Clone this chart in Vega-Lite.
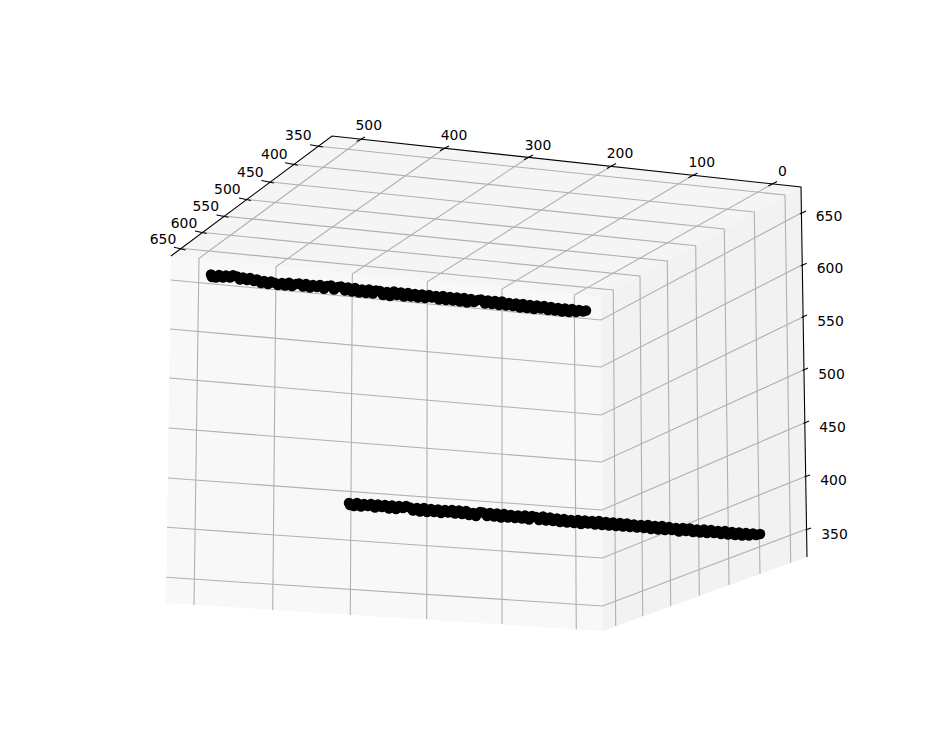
{
"$schema":"https://vega.github.io/schema/vega-lite/v6.json",
"width":939,"height":732,"padding":0,
"autosize":{"type":"fit","contains":"padding"},
"background":"white",
"view":{"stroke":null},
"datasets":{
"panes":[
{"pane":"top","sx":171,"sy":256,"sy2":256},{"pane":"top","sx":332,"sy":136,"sy2":271.4},{"pane":"top","sx":601,"sy":165.3,"sy2":297},{"pane":"top","sx":801,"sy":187,"sy2":187},
{"pane":"front","sx":166,"sy":603,"sy2":603},{"pane":"front","sx":171,"sy":256,"sy2":603.3},{"pane":"front","sx":601,"sy":297,"sy2":630.9},{"pane":"front","sx":603,"sy":631,"sy2":631},
{"pane":"right","sx":601,"sy":297,"sy2":297},{"pane":"right","sx":603,"sy":295.9,"sy2":631},{"pane":"right","sx":801,"sy":187,"sy2":559.2},{"pane":"right","sx":807,"sy":557,"sy2":557}
],
"grid":[
{"id":"z650","i":0,"sx":170.6,"sy":280},{"id":"z650","i":1,"sx":601,"sy":320},{"id":"z650","i":2,"sx":802,"sy":212.5},
{"id":"z600","i":0,"sx":170,"sy":329},{"id":"z600","i":1,"sx":601,"sy":367},{"id":"z600","i":2,"sx":803,"sy":264.5},
{"id":"z550","i":0,"sx":169.3,"sy":378},{"id":"z550","i":1,"sx":601.3,"sy":415},{"id":"z550","i":2,"sx":804,"sy":316.5},
{"id":"z500","i":0,"sx":168.6,"sy":428},{"id":"z500","i":1,"sx":601.6,"sy":462},{"id":"z500","i":2,"sx":804.5,"sy":369.5},
{"id":"z450","i":0,"sx":168,"sy":478},{"id":"z450","i":1,"sx":602,"sy":510},{"id":"z450","i":2,"sx":805.5,"sy":422.5},
{"id":"z400","i":0,"sx":167,"sy":527.3},{"id":"z400","i":1,"sx":602.3,"sy":558},{"id":"z400","i":2,"sx":806.7,"sy":476},
{"id":"z350","i":0,"sx":166.3,"sy":577.3},{"id":"z350","i":1,"sx":602.6,"sy":606},{"id":"z350","i":2,"sx":806.7,"sy":529},
{"id":"y350","i":0,"sx":316.7,"sy":146},{"id":"y350","i":1,"sx":785,"sy":195},{"id":"y350","i":2,"sx":790.7,"sy":562.7},
{"id":"y400","i":0,"sx":291.7,"sy":164},{"id":"y400","i":1,"sx":754.3,"sy":212},{"id":"y400","i":2,"sx":760,"sy":574},
{"id":"y450","i":0,"sx":267.7,"sy":181.7},{"id":"y450","i":1,"sx":724.3,"sy":229},{"id":"y450","i":2,"sx":729,"sy":585},
{"id":"y500","i":0,"sx":245,"sy":199.3},{"id":"y500","i":1,"sx":695.7,"sy":245.7},{"id":"y500","i":2,"sx":699.3,"sy":595.7},
{"id":"y550","i":0,"sx":222.7,"sy":216},{"id":"y550","i":1,"sx":667.3,"sy":261},{"id":"y550","i":2,"sx":670.7,"sy":606},
{"id":"y600","i":0,"sx":200.7,"sy":232.3},{"id":"y600","i":1,"sx":640,"sy":276},{"id":"y600","i":2,"sx":642.7,"sy":616},
{"id":"y650","i":0,"sx":180,"sy":248.3},{"id":"y650","i":1,"sx":613.3,"sy":290},{"id":"y650","i":2,"sx":615.7,"sy":626},
{"id":"x500","i":0,"sx":361.7,"sy":139},{"id":"x500","i":1,"sx":199,"sy":258.3},{"id":"x500","i":2,"sx":194,"sy":605},
{"id":"x400","i":0,"sx":445,"sy":148},{"id":"x400","i":1,"sx":276,"sy":266.7},{"id":"x400","i":2,"sx":272.7,"sy":610},
{"id":"x300","i":0,"sx":529,"sy":157},{"id":"x300","i":1,"sx":352.3,"sy":274},{"id":"x300","i":2,"sx":350.3,"sy":615},
{"id":"x200","i":0,"sx":611.7,"sy":165.7},{"id":"x200","i":1,"sx":427.3,"sy":281.7},{"id":"x200","i":2,"sx":426.7,"sy":619.3},
{"id":"x100","i":0,"sx":693.3,"sy":175},{"id":"x100","i":1,"sx":502,"sy":289},{"id":"x100","i":2,"sx":502,"sy":624},
{"id":"x0","i":0,"sx":773.3,"sy":183.3},{"id":"x0","i":1,"sx":574.3,"sy":295},{"id":"x0","i":2,"sx":576.3,"sy":629.3}
],
"axes":[
{"id":"frame","i":0,"sx":171,"sy":256},{"id":"frame","i":1,"sx":332,"sy":136},{"id":"frame","i":2,"sx":801,"sy":187},{"id":"frame","i":3,"sx":807,"sy":557},
{"id":"ty350","i":0,"sx":310,"sy":144.7},{"id":"ty350","i":1,"sx":323,"sy":147},
{"id":"ty400","i":0,"sx":285,"sy":162.8},{"id":"ty400","i":1,"sx":298,"sy":165.2},
{"id":"ty450","i":0,"sx":261.5,"sy":180.5},{"id":"ty450","i":1,"sx":274,"sy":183},
{"id":"ty500","i":0,"sx":239,"sy":198},{"id":"ty500","i":1,"sx":251,"sy":200.5},
{"id":"ty550","i":0,"sx":216.5,"sy":215},{"id":"ty550","i":1,"sx":228.5,"sy":217.3},
{"id":"ty600","i":0,"sx":195,"sy":231},{"id":"ty600","i":1,"sx":206.7,"sy":233.5},
{"id":"ty650","i":0,"sx":174,"sy":247.3},{"id":"ty650","i":1,"sx":185.7,"sy":250},
{"id":"tx500","i":0,"sx":356.7,"sy":141.5},{"id":"tx500","i":1,"sx":365,"sy":137},
{"id":"tx400","i":0,"sx":440,"sy":150.8},{"id":"tx400","i":1,"sx":449,"sy":146},
{"id":"tx300","i":0,"sx":524,"sy":159.8},{"id":"tx300","i":1,"sx":533,"sy":155},
{"id":"tx200","i":0,"sx":607,"sy":168.5},{"id":"tx200","i":1,"sx":616,"sy":163.5},
{"id":"tx100","i":0,"sx":688.5,"sy":177.8},{"id":"tx100","i":1,"sx":697.5,"sy":173},
{"id":"tx0","i":0,"sx":768.3,"sy":186},{"id":"tx0","i":1,"sx":777,"sy":181.5},
{"id":"tz650","i":0,"sx":800,"sy":214},{"id":"tz650","i":1,"sx":806,"sy":211},
{"id":"tz600","i":0,"sx":800.7,"sy":265.9},{"id":"tz600","i":1,"sx":806.7,"sy":263.3},
{"id":"tz550","i":0,"sx":801.6,"sy":317.5},{"id":"tz550","i":1,"sx":807,"sy":315},
{"id":"tz500","i":0,"sx":802.5,"sy":370.5},{"id":"tz500","i":1,"sx":808,"sy":368},
{"id":"tz450","i":0,"sx":803.5,"sy":423.5},{"id":"tz450","i":1,"sx":809,"sy":421},
{"id":"tz400","i":0,"sx":804.5,"sy":477},{"id":"tz400","i":1,"sx":810,"sy":475},
{"id":"tz350","i":0,"sx":805.5,"sy":530},{"id":"tz350","i":1,"sx":811,"sy":528}
],
"labels":[
{"t":"350","sx":298.3,"sy":136},{"t":"400","sx":274.3,"sy":155.3},{"t":"450","sx":250.3,"sy":173.3},{"t":"500","sx":227.3,"sy":190.3},{"t":"550","sx":205.7,"sy":207.3},{"t":"600","sx":184,"sy":224.3},{"t":"650","sx":163,"sy":240.3},
{"t":"500","sx":368.7,"sy":126},{"t":"400","sx":454,"sy":136},{"t":"300","sx":538,"sy":145.5},{"t":"200","sx":620,"sy":154.3},{"t":"100","sx":701.7,"sy":163.3},{"t":"0","sx":782.3,"sy":172.3},
{"t":"650","sx":829,"sy":217},{"t":"600","sx":830,"sy":269},{"t":"550","sx":830.5,"sy":322},{"t":"500","sx":831.5,"sy":375},{"t":"450","sx":832.5,"sy":428},{"t":"400","sx":833.5,"sy":481},{"t":"350","sx":834.5,"sy":535}
],
"points":[
{"sx":211,"sy":274.5},{"sx":212,"sy":277},{"sx":216,"sy":277.5},{"sx":219,"sy":275},{"sx":223,"sy":277.5},{"sx":226,"sy":275.5},{"sx":230,"sy":277.5},{"sx":233,"sy":275.3},{"sx":237,"sy":276.5},{"sx":240,"sy":279.5},{"sx":243,"sy":277.5},{"sx":247,"sy":280},{"sx":250,"sy":278},{"sx":254,"sy":281},{"sx":257,"sy":279.5},{"sx":261,"sy":283},{"sx":264,"sy":281},{"sx":268,"sy":284},{"sx":271,"sy":281.5},{"sx":275,"sy":283},{"sx":278,"sy":285},{"sx":282,"sy":283},{"sx":285,"sy":285.5},{"sx":289,"sy":282.8},{"sx":292,"sy":286},{"sx":296,"sy":284},{"sx":299,"sy":283.5},{"sx":303,"sy":286.5},{"sx":306,"sy":284},{"sx":310,"sy":287.5},{"sx":313,"sy":285},{"sx":317,"sy":287},{"sx":320,"sy":285},{"sx":324,"sy":288.8},{"sx":327,"sy":286},{"sx":331,"sy":285.5},{"sx":334,"sy":289.5},{"sx":338,"sy":287},{"sx":341,"sy":286.5},{"sx":345,"sy":290.5},{"sx":348,"sy":287.5},{"sx":352,"sy":291.5},{"sx":355,"sy":288},{"sx":359,"sy":292.5},{"sx":362,"sy":289.5},{"sx":366,"sy":293},{"sx":369,"sy":289.5},{"sx":373,"sy":293.5},{"sx":376,"sy":290.5},{"sx":380,"sy":291},{"sx":383,"sy":295},{"sx":387,"sy":292},{"sx":390,"sy":296},{"sx":394,"sy":291.5},{"sx":397,"sy":295},{"sx":401,"sy":292.5},{"sx":404,"sy":296.5},{"sx":408,"sy":293},{"sx":411,"sy":296.5},{"sx":415,"sy":294},{"sx":418,"sy":297.5},{"sx":422,"sy":294.5},{"sx":425,"sy":298},{"sx":429,"sy":295},{"sx":432,"sy":297.5},{"sx":436,"sy":296},{"sx":439,"sy":299.5},{"sx":443,"sy":296},{"sx":446,"sy":300},{"sx":450,"sy":297},{"sx":453,"sy":300.5},{"sx":457,"sy":297.5},{"sx":460,"sy":301.5},{"sx":464,"sy":298},{"sx":467,"sy":302.5},{"sx":471,"sy":299},{"sx":474,"sy":302},{"sx":478,"sy":300},{"sx":481,"sy":299.5},{"sx":485,"sy":303.5},{"sx":488,"sy":300.5},{"sx":492,"sy":304},{"sx":495,"sy":301},{"sx":499,"sy":305},{"sx":502,"sy":301.5},{"sx":506,"sy":305.5},{"sx":509,"sy":303},{"sx":513,"sy":306},{"sx":516,"sy":303.5},{"sx":520,"sy":307.5},{"sx":523,"sy":304},{"sx":527,"sy":308},{"sx":530,"sy":305},{"sx":534,"sy":309},{"sx":537,"sy":305.5},{"sx":541,"sy":308.5},{"sx":544,"sy":306},{"sx":548,"sy":310},{"sx":551,"sy":307},{"sx":555,"sy":310.5},{"sx":558,"sy":308},{"sx":562,"sy":311.5},{"sx":565,"sy":308.5},{"sx":569,"sy":312},{"sx":572,"sy":309},{"sx":576,"sy":312},{"sx":579,"sy":310},{"sx":583,"sy":311.5},{"sx":586,"sy":310.5},
{"sx":349,"sy":503},{"sx":350,"sy":505},{"sx":354,"sy":506},{"sx":357,"sy":503},{"sx":361,"sy":506.5},{"sx":364,"sy":504},{"sx":368,"sy":506},{"sx":371,"sy":504},{"sx":375,"sy":507.5},{"sx":378,"sy":504.5},{"sx":382,"sy":507},{"sx":385,"sy":505},{"sx":389,"sy":508.5},{"sx":392,"sy":505.5},{"sx":396,"sy":509},{"sx":399,"sy":506},{"sx":403,"sy":508},{"sx":406,"sy":506},{"sx":410,"sy":507.5},{"sx":413,"sy":510.5},{"sx":417,"sy":508},{"sx":420,"sy":511.5},{"sx":424,"sy":508},{"sx":427,"sy":512},{"sx":431,"sy":509},{"sx":434,"sy":512},{"sx":438,"sy":509.5},{"sx":441,"sy":513},{"sx":445,"sy":510},{"sx":448,"sy":512.5},{"sx":452,"sy":510},{"sx":455,"sy":513.5},{"sx":459,"sy":510.5},{"sx":462,"sy":514},{"sx":466,"sy":511},{"sx":469,"sy":515},{"sx":473,"sy":513},{"sx":476,"sy":516},{"sx":480,"sy":512},{"sx":483,"sy":512.5},{"sx":487,"sy":516},{"sx":490,"sy":513},{"sx":494,"sy":516.5},{"sx":497,"sy":513.5},{"sx":501,"sy":517.5},{"sx":504,"sy":514},{"sx":508,"sy":517.5},{"sx":511,"sy":515},{"sx":515,"sy":518},{"sx":518,"sy":515.5},{"sx":522,"sy":518.5},{"sx":525,"sy":515.5},{"sx":529,"sy":519.5},{"sx":532,"sy":516},{"sx":536,"sy":517},{"sx":539,"sy":520},{"sx":543,"sy":516.5},{"sx":546,"sy":520.5},{"sx":550,"sy":517.5},{"sx":553,"sy":521},{"sx":557,"sy":518.5},{"sx":560,"sy":522},{"sx":564,"sy":519},{"sx":567,"sy":522.5},{"sx":571,"sy":520},{"sx":574,"sy":523},{"sx":578,"sy":520},{"sx":581,"sy":524},{"sx":585,"sy":520.5},{"sx":588,"sy":523.5},{"sx":592,"sy":521},{"sx":595,"sy":524.5},{"sx":599,"sy":521},{"sx":602,"sy":525},{"sx":606,"sy":522},{"sx":609,"sy":525.5},{"sx":613,"sy":522.5},{"sx":616,"sy":526},{"sx":620,"sy":523},{"sx":623,"sy":526.5},{"sx":627,"sy":523.5},{"sx":630,"sy":527},{"sx":634,"sy":524.5},{"sx":637,"sy":527.5},{"sx":641,"sy":525},{"sx":644,"sy":528},{"sx":648,"sy":525},{"sx":651,"sy":529},{"sx":655,"sy":526},{"sx":658,"sy":529.5},{"sx":662,"sy":526},{"sx":665,"sy":530},{"sx":669,"sy":527},{"sx":672,"sy":530},{"sx":676,"sy":528},{"sx":679,"sy":531.5},{"sx":683,"sy":528},{"sx":686,"sy":531},{"sx":690,"sy":528.5},{"sx":693,"sy":532},{"sx":697,"sy":529.5},{"sx":700,"sy":532.5},{"sx":704,"sy":529.5},{"sx":707,"sy":533},{"sx":711,"sy":530},{"sx":714,"sy":533},{"sx":718,"sy":531},{"sx":721,"sy":534},{"sx":725,"sy":531},{"sx":728,"sy":534.5},{"sx":732,"sy":532},{"sx":735,"sy":535},{"sx":739,"sy":532.5},{"sx":742,"sy":535.5},{"sx":746,"sy":533},{"sx":749,"sy":535.5},{"sx":753,"sy":533.5},{"sx":756,"sy":535},{"sx":760,"sy":534}
]
},
"layer":[
{"data":{"name":"panes"},"mark":{"type":"area","line":false},
"encoding":{
"x":{"field":"sx","type":"quantitative","scale":{"domain":[0,939],"nice":false,"zero":false},"axis":null},
"y":{"field":"sy","type":"quantitative","scale":{"domain":[732,0],"nice":false,"zero":false},"axis":null},
"y2":{"field":"sy2"},
"color":{"field":"pane","type":"nominal","scale":{"domain":["front","right","top"],"range":["#f8f8f8","#f2f2f2","#f5f5f5"]},"legend":null}}},
{"data":{"name":"grid"},"mark":{"type":"line","color":"#b0b0b0","strokeWidth":1.1},
"encoding":{
"x":{"field":"sx","type":"quantitative"},
"y":{"field":"sy","type":"quantitative"},
"detail":{"field":"id"},
"order":{"field":"i","type":"quantitative"}}},
{"data":{"name":"axes"},"mark":{"type":"line","color":"#000000","strokeWidth":1.1},
"encoding":{
"x":{"field":"sx","type":"quantitative"},
"y":{"field":"sy","type":"quantitative"},
"detail":{"field":"id"},
"order":{"field":"i","type":"quantitative"}}},
{"data":{"name":"points"},"mark":{"type":"circle","color":"#000000","opacity":1,"size":110},
"encoding":{
"x":{"field":"sx","type":"quantitative"},
"y":{"field":"sy","type":"quantitative"}}},
{"data":{"name":"labels"},"mark":{"type":"text","font":"DejaVu Sans","fontSize":13.9,"color":"#000000","align":"center","baseline":"middle"},
"encoding":{
"x":{"field":"sx","type":"quantitative"},
"y":{"field":"sy","type":"quantitative"},
"text":{"field":"t","type":"nominal"}}}
]
}
